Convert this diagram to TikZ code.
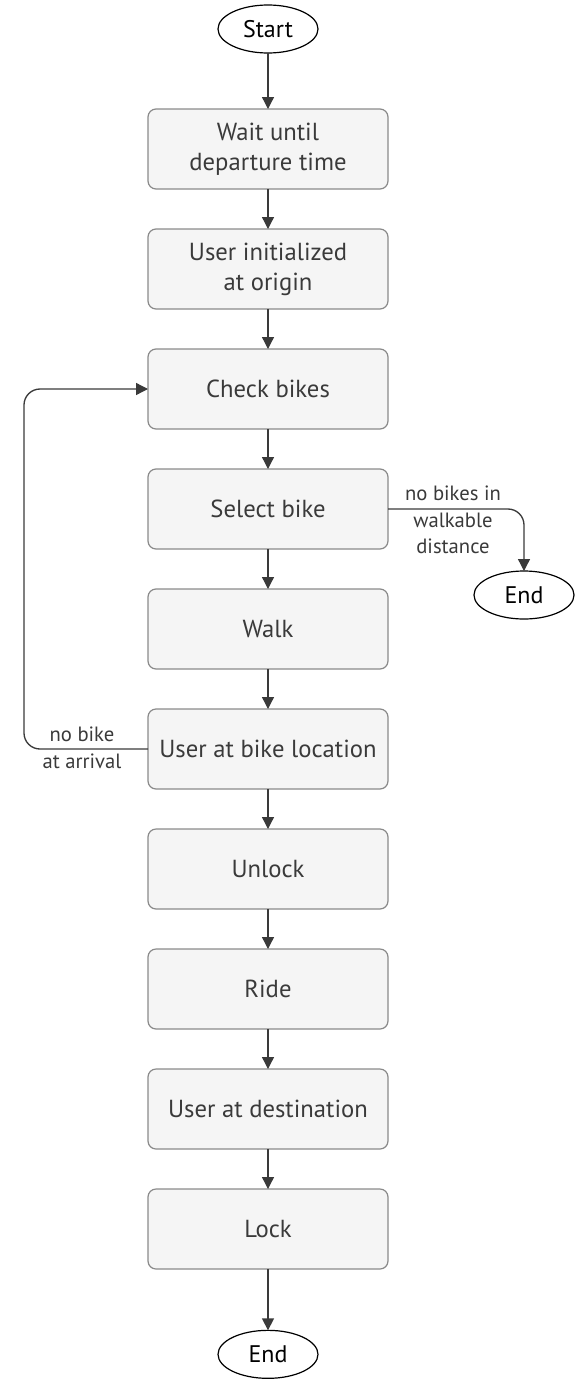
\documentclass[tikz,border=0pt]{standalone}
\usepackage{fontspec}
\setmainfont{PT Sans}
\usetikzlibrary{arrows.meta, positioning, shapes.geometric}
\definecolor{boxfill}{HTML}{F5F5F5}
\definecolor{boxline}{HTML}{8A8A8A}
\definecolor{lineink}{HTML}{3A3A3A}

\begin{document}
\begin{tikzpicture}[
    x=0.75pt, y=-0.75pt,
    node distance=30pt,
    stepbox/.style={
        rectangle, draw=boxline, fill=boxfill, rounded corners=6pt,
        line width=0.9pt, minimum width=180pt, minimum height=60pt,
        outer sep=0pt, align=center, text=lineink,
        font=\fontsize{18.5}{22.5}\selectfont
    },
    term/.style={
        ellipse, draw=black, fill=white, line width=0.9pt,
        minimum width=75pt, minimum height=36pt, inner sep=0pt,
        outer sep=0pt, font=\fontsize{18}{20}\selectfont
    },
    arrow/.style={-{Triangle[length=9pt, width=9pt]}, draw=lineink, line width=1pt},
    note/.style={align=center, text=lineink, font=\fontsize{15.5}{20}\selectfont},
]
\useasboundingbox (0,0) rectangle (578,1381);

\node[term] (start) at (268,29) {Start};

\node[stepbox, below=42pt of start] (wait) {Wait until\\departure time};
\node[stepbox, below=of wait]   (init)   {User initialized\\at origin};
\node[stepbox, below=of init]   (check)  {Check bikes};
\node[stepbox, below=of check]  (select) {Select bike};
\node[stepbox, below=of select] (walk)   {Walk};
\node[stepbox, below=of walk]   (atbike) {User at bike location};
\node[stepbox, below=of atbike] (unlock) {Unlock};
\node[stepbox, below=of unlock] (ride)   {Ride};
\node[stepbox, below=of ride]   (atdest) {User at destination};
\node[stepbox, below=of atdest] (lock)   {Lock};

\node[term, below=46pt of lock] (end) {End};
\node[term] (endside) at (524,595) {End};

\draw[arrow] (start) -- (wait);
\draw[arrow] (wait) -- (init);
\draw[arrow] (init) -- (check);
\draw[arrow] (check) -- (select);
\draw[arrow] (select) -- (walk);
\draw[arrow] (walk) -- (atbike);
\draw[arrow] (atbike) -- (unlock);
\draw[arrow] (unlock) -- (ride);
\draw[arrow] (ride) -- (atdest);
\draw[arrow] (atdest) -- (lock);
\draw[arrow] (lock) -- (end);

% branches
\draw[arrow, rounded corners=12pt] (select.east) -| (endside.north);
\node[note] at (453,520) {no bikes in\\walkable\\distance};

\draw[arrow, rounded corners=12pt] (atbike.west) -- (24,749) |- (check.west);
\node[note] at (82,748) {no bike\\at arrival};

\end{tikzpicture}
\end{document}
